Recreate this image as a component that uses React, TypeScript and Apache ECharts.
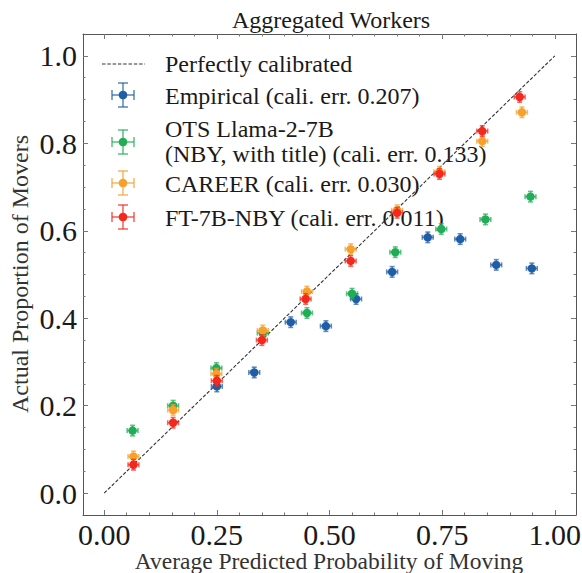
import React, { useEffect, useRef } from "react";
import * as echarts from "echarts";

const empiricalX = [0.250, 0.333, 0.414, 0.492, 0.559, 0.639, 0.718, 0.790, 0.870, 0.949];
const empiricalY = [0.244, 0.276, 0.391, 0.382, 0.444, 0.506, 0.585, 0.581, 0.522, 0.514];
const otsX = [0.063, 0.153, 0.249, 0.352, 0.450, 0.550, 0.646, 0.748, 0.846, 0.946];
const otsY = [0.143, 0.200, 0.286, 0.366, 0.412, 0.456, 0.551, 0.604, 0.626, 0.678];
const careerX = [0.065, 0.153, 0.249, 0.352, 0.450, 0.547, 0.650, 0.744, 0.839, 0.927];
const careerY = [0.084, 0.190, 0.273, 0.372, 0.461, 0.558, 0.647, 0.735, 0.805, 0.871];
const ftX = [0.065, 0.153, 0.250, 0.350, 0.447, 0.547, 0.650, 0.744, 0.839, 0.922];
const ftY = [0.065, 0.161, 0.257, 0.350, 0.444, 0.531, 0.641, 0.730, 0.828, 0.906];

const xTicks = [0, 0.25, 0.5, 0.75, 1.0];
const yTicks = [0, 0.2, 0.4, 0.6, 0.8, 1.0];
const minorTicks = [0, 0.05, 0.1, 0.15, 0.2, 0.25, 0.3, 0.35, 0.4, 0.45, 0.5, 0.55, 0.6, 0.65, 0.7, 0.75, 0.8, 0.85, 0.9, 0.95, 1.0];

const seriesNames = [
  "Empirical (cali. err. 0.207)",
  "OTS Llama-2-7B\n(NBY, with title) (cali. err. 0.133)",
  "CAREER (cali. err. 0.030)",
  "FT-7B-NBY (cali. err. 0.011)",
];
const colors = ["#1f5ea6", "#1fae55", "#f7a02c", "#f4281c"];

const ERR = 0.012;
const FONT = "Liberation Serif";
const XMIN = -0.047, XMAX = 1.047, YMIN = -0.05, YMAX = 1.05;

function zip(xs: number[], ys: number[]) {
  return xs.map((x, i) => [x, ys[i]]);
}

export default function App() {
  const ref = useRef<HTMLDivElement>(null);
  useEffect(() => {
    if (!ref.current) return;
    const chart = echarts.init(ref.current, null, { renderer: "svg" });
    const datasets = [zip(empiricalX, empiricalY), zip(otsX, otsY), zip(careerX, careerY), zip(ftX, ftY)];

    const series: any[] = [
      {
        type: "line",
        name: "Perfectly calibrated",
        data: [[0, 0], [1, 1]],
        symbol: "none",
        lineStyle: { color: "#333", width: 1.1, type: [3.5, 1.8] },
        z: 1,
      },
    ];
    datasets.forEach((d, i) => {
      series.push({
        type: "custom",
        name: seriesNames[i] + "_err",
        data: d,
        z: 2 + i * 2,
        renderItem: (params: any, api: any) => {
          const x = api.value(0), y = api.value(1);
          const l = api.coord([x - ERR, y]);
          const r = api.coord([x + ERR, y]);
          const t = api.coord([x, y + ERR]);
          const b = api.coord([x, y - ERR]);
          const cap = 2.5;
          const st = { stroke: colors[i], lineWidth: 1.6, opacity: 0.7 };
          return {
            type: "group",
            children: [
              { type: "line", shape: { x1: l[0], y1: l[1], x2: r[0], y2: r[1] }, style: st },
              { type: "line", shape: { x1: t[0], y1: t[1], x2: b[0], y2: b[1] }, style: st },
              { type: "line", shape: { x1: l[0], y1: l[1] - cap, x2: l[0], y2: l[1] + cap }, style: st },
              { type: "line", shape: { x1: r[0], y1: r[1] - cap, x2: r[0], y2: r[1] + cap }, style: st },
              { type: "line", shape: { x1: t[0] - cap, y1: t[1], x2: t[0] + cap, y2: t[1] }, style: st },
              { type: "line", shape: { x1: b[0] - cap, y1: b[1], x2: b[0] + cap, y2: b[1] }, style: st },
            ],
          };
        },
      });
      series.push({
        type: "scatter",
        name: seriesNames[i],
        data: d,
        symbol: "circle",
        symbolSize: 8.5,
        itemStyle: { color: colors[i], opacity: 1 },
        z: 3 + i * 2,
      });
    });

    const axisLineStyle = { color: "#555", width: 1 };
    const mkX = (pos: string, labels: boolean, ticks: number[], len: number, line: boolean) => ({
      type: "value",
      min: XMIN,
      max: XMAX,
      position: pos,
      axisLine: { show: line, onZero: false, lineStyle: axisLineStyle },
      axisTick: { show: true, inside: true, length: len, customValues: ticks, lineStyle: { color: "#777", width: 1 } },
      axisLabel: labels
        ? { show: true, customValues: xTicks, formatter: (v: number) => v.toFixed(2), fontFamily: FONT, fontSize: 30, lineHeight: 27, color: "#1a1a1a", margin: 6 }
        : { show: false },
      splitLine: { show: false },
    });
    const mkY = (pos: string, labels: boolean, ticks: number[], len: number, line: boolean) => ({
      type: "value",
      min: YMIN,
      max: YMAX,
      position: pos,
      axisLine: { show: line, onZero: false, lineStyle: axisLineStyle },
      axisTick: { show: true, inside: true, length: len, customValues: ticks, lineStyle: { color: "#777", width: 1 } },
      axisLabel: labels
        ? { show: true, customValues: yTicks, formatter: (v: number) => v.toFixed(1), fontFamily: FONT, fontSize: 30, color: "#1a1a1a", margin: 6 }
        : { show: false },
      splitLine: { show: false },
    });

    const txt = (text: string, x: number, y: number, size: number, extra: any = {}, rotation = 0) => ({
      type: "text",
      x, y, rotation,
      style: { text, fontFamily: FONT, fontSize: size, fill: "#1a1a1a", verticalAlign: "middle", ...extra },
    });

    // legend graphics
    const legendX = 123;
    const textX = 165;
    const LFS = 24;
    const legendGraphics: any[] = [];
    legendGraphics.push({
      type: "line",
      shape: { x1: 102, y1: 64, x2: 145, y2: 64 },
      style: { stroke: "#333", lineWidth: 1.1, lineDash: [3.5, 1.8] },
    });
    legendGraphics.push(txt("Perfectly calibrated", textX, 64, LFS));
    const iconYs = [95, 142, 183, 217];
    const textYs = [[96], [129, 154], [184], [218]];
    const textLines = [
      ["Empirical (cali. err. 0.207)"],
      ["OTS Llama-2-7B", "(NBY, with title) (cali. err. 0.133)"],
      ["CAREER (cali. err. 0.030)"],
      ["FT-7B-NBY (cali. err. 0.011)"],
    ];
    iconYs.forEach((cy, i) => {
      const st = { stroke: colors[i], lineWidth: 1.6, opacity: 0.7 };
      const hw = 11, hh = 12, cap = 5;
      legendGraphics.push(
        { type: "line", shape: { x1: legendX - hw, y1: cy, x2: legendX + hw, y2: cy }, style: st },
        { type: "line", shape: { x1: legendX, y1: cy - hh, x2: legendX, y2: cy + hh }, style: st },
        { type: "line", shape: { x1: legendX - hw, y1: cy - cap, x2: legendX - hw, y2: cy + cap }, style: st },
        { type: "line", shape: { x1: legendX + hw, y1: cy - cap, x2: legendX + hw, y2: cy + cap }, style: st },
        { type: "line", shape: { x1: legendX - cap, y1: cy - hh, x2: legendX + cap, y2: cy - hh }, style: st },
        { type: "line", shape: { x1: legendX - cap, y1: cy + hh, x2: legendX + cap, y2: cy + hh }, style: st },
        { type: "circle", shape: { cx: legendX, cy, r: 4.3 }, style: { fill: colors[i] } }
      );
      textLines[i].forEach((t, j) => {
        legendGraphics.push(txt(t, textX, textYs[i][j], LFS));
      });
    });

    chart.setOption({
      animation: false,
      backgroundColor: "#ffffff",
      grid: { left: 83, top: 34, width: 493, height: 481, outerBoundsMode: "none", containLabel: false },
      xAxis: [
        mkX("bottom", true, xTicks, 5, true),
        mkX("bottom", false, minorTicks, 2.5, false),
        mkX("top", false, xTicks, 5, true),
        mkX("top", false, minorTicks, 2.5, false),
      ],
      yAxis: [
        mkY("left", true, yTicks, 5, true),
        mkY("left", false, minorTicks, 2.5, false),
        mkY("right", false, yTicks, 5, true),
        mkY("right", false, minorTicks, 2.5, false),
      ],
      series,
      graphic: [
        txt("Aggregated Workers", 331, 20, 24, { align: "center" }),
        txt("Average Predicted Probability of Moving", 329, 561, 23.5, { align: "center", fill: "#333", lineHeight: 22 }),
        txt("Actual Proportion of Movers", 20, 274, 24, { align: "center", fill: "#333" }, Math.PI / 2),
        ...legendGraphics,
      ],
    });
    return () => chart.dispose();
  }, []);
  return <div ref={ref} style={{ width: 582, height: 573, position: "absolute", left: 0, top: 0 }} />;
}
